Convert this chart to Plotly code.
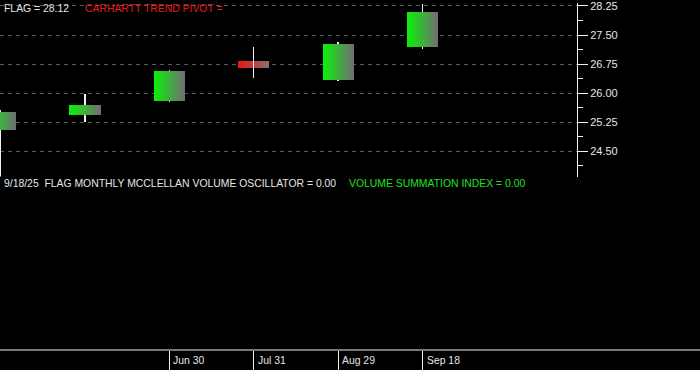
import plotly.graph_objects as go

# ---- data ----
dates = ["Apr 30", "May 30", "Jun 30", "Jul 31", "Aug 29", "Sep 18"]
opens = [25.04, 25.45, 25.81, 26.82, 26.34, 27.18]
highs = [25.57, 25.98, 26.59, 27.20, 27.31, 28.30]
lows = [23.40, 25.27, 25.78, 26.39, 26.32, 27.13]
closes = [25.52, 25.70, 26.57, 26.65, 27.28, 28.10]
labeled_dates = ["Jun 30", "Jul 31", "Aug 29", "Sep 18"]
price_ticks = [24.50, 25.25, 26.00, 26.75, 27.50, 28.25]

last_value = 28.12

# ---- styling ----
W, H = 700, 370
ML, MR, MT, MB = 0, 123, 0, 20
plot_w = W - ML - MR
px_per_idx = 84.4
x0 = -0.5 / px_per_idx
x_range = [x0, x0 + plot_w / px_per_idx]
body_w = 31 / px_per_idx
wick_w = 0.6 / px_per_idx

FONT = "Liberation Sans, Arial, sans-serif"
TXT = "#e6e6e6"
WICK = "#f0f0f0"

idx = list(range(len(dates)))
up = [c >= o for o, c in zip(opens, closes)]

fig = go.Figure()

def wick_trace(sel):
    xs = [i for i in idx if sel(i)]
    return go.Bar(x=xs, y=[highs[i] - lows[i] for i in xs], base=[lows[i] for i in xs],
                  width=wick_w, marker=dict(color=WICK, line=dict(width=0)),
                  hoverinfo="skip", showlegend=False, xaxis="x", yaxis="y")

# wicks behind up-candles
fig.add_trace(wick_trace(lambda i: up[i]))

# gradient bodies built from overlapping bar slices
N = 24
g0, g1 = (10, 240, 10), (112, 112, 112)
r0, r1 = (232, 22, 22), (135, 112, 112)

def lerp(a, b, t):
    return "rgb(%d,%d,%d)" % tuple(round(a[j] + (b[j] - a[j]) * t) for j in range(3))

base = [min(o, c) for o, c in zip(opens, closes)]
height = [abs(c - o) for o, c in zip(opens, closes)]
for k in range(N):
    t = k / (N - 1)
    cols = [lerp(g0, g1, t) if up[i] else lerp(r0, r1, t) for i in idx]
    off = -body_w / 2 + k * body_w / N
    fig.add_trace(go.Bar(x=idx, y=height, base=base, width=body_w - k * body_w / N,
                         offset=off, marker=dict(color=cols, line=dict(width=0)),
                         hoverinfo="skip", showlegend=False, xaxis="x", yaxis="y"))

# wicks on top of down-candles
fig.add_trace(wick_trace(lambda i: not up[i]))

# empty lower panel
fig.add_trace(go.Scatter(x=[None], y=[None], xaxis="x", yaxis="y2", showlegend=False,
                         hoverinfo="skip"))

px_per_unit = 39.12
top_val = 28.25 + 3 / px_per_unit
bot_val = top_val - 175 / px_per_unit

fig.update_layout(
    width=W, height=H,
    margin=dict(l=ML, r=MR, t=MT, b=MB),
    paper_bgcolor="black", plot_bgcolor="black",
    barmode="overlay", bargap=0,
    showlegend=False,
    font=dict(family=FONT, color=TXT, size=11),
    xaxis=dict(range=x_range, anchor="y2", showgrid=False, zeroline=False, showline=False,
               tickmode="array", tickvals=[dates.index(d) for d in labeled_dates],
               ticktext=["" for _ in labeled_dates],
               ticks="outside", ticklen=20, tickwidth=1, tickcolor=WICK,
               showticklabels=False, fixedrange=True),
    yaxis=dict(domain=[0.5, 1], range=[bot_val, top_val], side="right", anchor="x",
               showline=True, linecolor=WICK, linewidth=1, zeroline=False,
               tickmode="array", tickvals=price_ticks,
               ticktext=["%.2f" % v for v in price_ticks],
               ticks="outside", ticklen=10, tickwidth=1, tickcolor=WICK,
               ticklabeloverflow="allow",
               tickfont=dict(size=11, color=TXT, family=FONT),
               showgrid=True, gridcolor="#5a5a5a", gridwidth=1, griddash="4px,4px",
               minor=dict(tickvals=[v + 0.375 for v in [24.125 - 0.375] + price_ticks],
                          ticks="outside", ticklen=5, tickcolor=WICK, tickwidth=1,
                          showgrid=False)),
    yaxis2=dict(domain=[0, 0.5], range=[0, 1], visible=False, anchor="x"),
)

# full-width bottom separator line
fig.add_shape(type="line", xref="paper", yref="paper", x0=0, x1=W / plot_w, y0=0, y1=0,
              line=dict(color=WICK, width=1))

ann_font = 10.4
# top-left legend text
fig.add_annotation(text="FLAG = %.2f" % last_value, xref="paper", yref="paper",
                   x=0, y=1, xanchor="left", yanchor="middle", xshift=2, yshift=-5,
                   showarrow=False, font=dict(size=ann_font, color=TXT, family=FONT))
fig.add_annotation(text="CARHARTT TREND PIVOT =", xref="paper", yref="paper",
                   x=83 / plot_w, y=1, xanchor="left", yanchor="middle", yshift=-5,
                   showarrow=False, font=dict(size=ann_font, color="#e41b1b", family=FONT))
# lower panel text
fig.add_annotation(text="9/18/25  FLAG MONTHLY MCCLELLAN VOLUME OSCILLATOR = 0.00",
                   xref="paper", yref="paper", x=0, y=0.5, xanchor="left", yanchor="middle",
                   xshift=2, yshift=-7, showarrow=False,
                   font=dict(size=ann_font, color=TXT, family=FONT))
fig.add_annotation(text="VOLUME SUMMATION INDEX = 0.00",
                   xref="paper", yref="paper", x=347 / plot_w, y=0.5, xanchor="left",
                   yanchor="middle", yshift=-7, showarrow=False,
                   font=dict(size=ann_font, color="#22e022", family=FONT))
# date labels on bottom axis
for d in labeled_dates:
    fig.add_annotation(text=d, xref="x", yref="paper", x=dates.index(d), y=0,
                       xanchor="left", yanchor="middle", xshift=2, yshift=-10,
                       showarrow=False, font=dict(size=ann_font, color=TXT, family=FONT))

fig.write_html("out.html", config={"displayModeBar": False},
               post_script="document.body.style.margin='0';document.body.style.background='black';")
